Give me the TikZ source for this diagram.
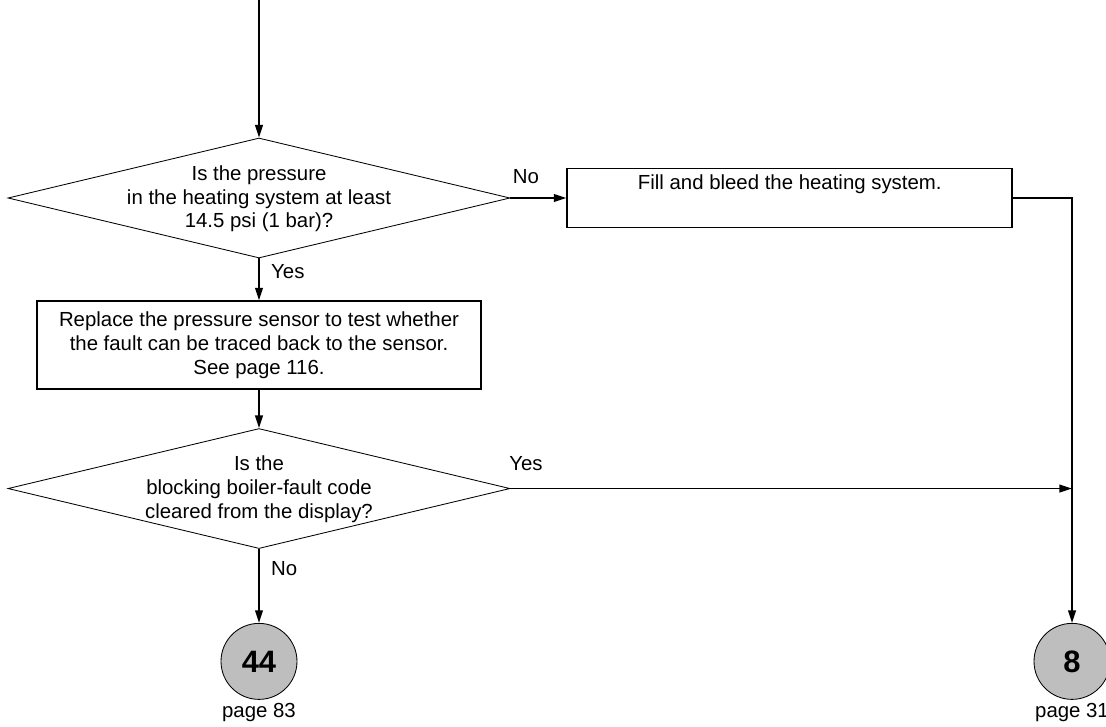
\documentclass[tikz,border=0pt]{standalone}
\usepackage{fontspec}
\setmainfont{Liberation Sans}
\usepackage{xcolor}
\usetikzlibrary{arrows.meta,positioning,shapes.geometric}

\definecolor{connfill}{RGB}{190,190,190}
% question text in a box of no size, so the diamond keeps its own size
\newcommand{\qtext}[1]{\makebox[0pt]{\smash{\raisebox{-4.5pt}{\begin{tabular}{@{}c@{}}#1\end{tabular}}}}}

\begin{document}
\begin{tikzpicture}[
  font=\fontsize{14.5}{17}\selectfont,
  decision/.style={draw, diamond, line width=0.6pt, minimum width=12.55cm, minimum height=3cm, inner sep=0pt},
  process/.style={draw, line width=1.2pt, minimum width=11.1cm, inner sep=2pt, align=center},
  conn/.style={draw, circle, line width=0.6pt, fill=connfill, minimum size=1.9cm, inner sep=0pt, font=\fontsize{22}{26}\selectfont\bfseries},
  lbl/.style={inner sep=0pt},
  arr/.style={line width=1.3pt, -{Triangle[length=9pt, width=5.5pt]}}
]
  \useasboundingbox (0,0) rectangle (27.65,-18.15);
  \coordinate (start) at (6.475,0);
  \coordinate (rcol) at (26.8,0);
  \node[decision] (q1) at (6.475,-4.95) {\qtext{Is the pressure\\in the heating system at least\\14.5 psi (1 bar)?}};
  \node[process, minimum width=11.125cm, minimum height=1.475cm, text height=10.5pt, text depth=22.5pt, right=1.4cm of q1] (fill) {Fill and bleed the heating system.};
  \node[process, minimum height=2.2cm, below=1.05cm of q1] (repl) {Replace the pressure sensor to test whether\\the fault can be traced back to the sensor.\\See page 116.};
  \node[decision, below=0.95cm of repl] (q2) {\qtext{Is the\\blocking boiler-fault code\\cleared from the display?}};
  \node[conn, below=1.85cm of q2] (c44) {44};
  \node[lbl, below=2.5pt of c44] (p83) {page 83};
  \node[conn] (c8) at (c44 -| rcol) {8};
  \node[lbl, below=2.5pt of c8] (p31) {page 31};

  \draw[arr] (start) -- (q1.north);
  \draw[arr] (q1.east) -- (fill.west);
  \draw[arr] (fill.east) -| (c8.north);
  \draw[arr] (q1.south) -- (repl.north);
  \draw[arr] (repl.south) -- (q2.north);
  \draw[arr] (q2.east) -- (q2.east -| c8.north);
  \draw[arr] (q2.south) -- (c44.north);

  \node[lbl, anchor=south west] (no1) at ([xshift=1.5pt, yshift=10pt]q1.east) {No};
  \node[lbl, anchor=north west] (yes1) at ([xshift=8.5pt, yshift=-4pt]q1.south) {Yes};
  \node[lbl, anchor=south west] (yes2) at ([xshift=-1pt, yshift=12.5pt]q2.east) {Yes};
  \node[lbl, anchor=north west] (no2) at ([xshift=8.5pt, yshift=-9pt]q2.south) {No};
\end{tikzpicture}
\end{document}
